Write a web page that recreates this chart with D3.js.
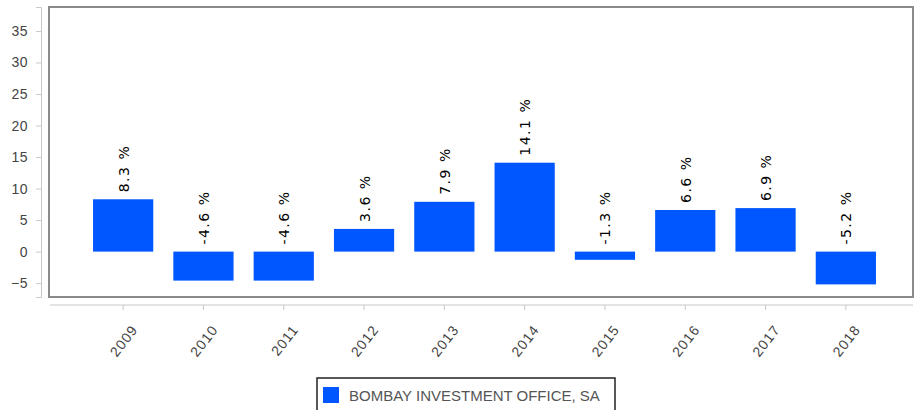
<!DOCTYPE html>
<html>
<head>
<meta charset="utf-8">
<script src="https://cdn.jsdelivr.net/npm/d3@7"></script>
<style>
    body { margin: 0; background: #fff; }
    svg { display: block; font-family: 'DejaVu Sans', sans-serif; }
</style>
</head>
<body>
<svg id="chart" width="914" height="410"></svg>
<script>
const years = ['2009', '2010', '2011', '2012', '2013', '2014', '2015', '2016', '2017', '2018']
const returns = [8.3, -4.6, -4.6, 3.6, 7.9, 14.1, -1.3, 6.6, 6.9, -5.2]
const yTicks = [-5, 0, 5, 10, 15, 20, 25, 30, 35]
const seriesName = 'BOMBAY INVESTMENT OFFICE, SA'

const barColor = '#0057ff'
const textColor = '#444'

const frame = { left: 49, top: 7, right: 913, bottom: 297 }

const svg = d3.select('#chart')

const x = d3.scaleBand()
    .domain(years)
    .range([83, 886])
    .paddingInner(0.25)
    .paddingOuter(0.125)

const y = d3.scaleLinear()
    .domain([-7.2, 38.8])
    .range([frame.bottom, frame.top])

// plot frame
svg.append('rect')
    .attr('x', frame.left)
    .attr('y', frame.top)
    .attr('width', frame.right - frame.left)
    .attr('height', frame.bottom - frame.top)
    .attr('fill', '#fff')
    .attr('stroke', '#8a8a8a')
    .attr('stroke-width', 2)

// y axis, drawn just left of the frame
let yAxis = svg.append('g')
    .attr('transform', `translate(41, 0)`)
    .call(d3.axisLeft(y).tickValues(yTicks).tickSize(5).tickPadding(8))

yAxis.select('.domain').attr('stroke', '#c8c8c8')
yAxis.selectAll('.tick line').attr('stroke', '#c8c8c8')
yAxis.selectAll('.tick text')
    .attr('fill', textColor)
    .attr('font-size', '14px')
    .attr('letter-spacing', '0.5px')

// x axis, below the frame
let xAxis = svg.append('g')
    .attr('transform', `translate(0, 305)`)
    .call(d3.axisBottom(x).tickSize(5).tickSizeOuter(0))

xAxis.select('.domain')
    .attr('d', `M${frame.left + 1},0H${frame.right}`)
    .attr('stroke', '#c8c8c8')
xAxis.selectAll('.tick line').attr('stroke', '#c8c8c8')
xAxis.selectAll('.tick text')
    .attr('fill', textColor)
    .attr('font-size', '14px')
    .attr('letter-spacing', '1px')
    .attr('text-anchor', 'end')
    .attr('dy', null)
    .attr('transform', 'translate(9, 20) rotate(-52)')

// bars
svg.append('g')
    .selectAll('rect')
    .data(returns)
    .join('rect')
    .attr('x', (d, i) => x(years[i]))
    .attr('width', x.bandwidth())
    .attr('y', d => y(Math.max(0, d)))
    .attr('height', d => Math.abs(y(d) - y(0)))
    .attr('fill', barColor)

// value labels
svg.append('g')
    .selectAll('text')
    .data(returns)
    .join('text')
    .attr('transform', (d, i) => `translate(${x(years[i]) + x.bandwidth() / 2 + 5.5}, ${y(Math.max(0, d)) - 7}) rotate(-90)`)
    .attr('font-size', '14px')
    .attr('letter-spacing', '1.5px')
    .attr('fill', '#000')
    .text(d => `${d.toFixed(1)} %`)

// legend
let legend = svg.append('g')
    .attr('transform', `translate(317, 378)`)

legend.append('rect')
    .attr('width', 298)
    .attr('height', 40)
    .attr('fill', '#fff')
    .attr('stroke', '#222')
    .attr('stroke-width', 1.5)

legend.append('rect')
    .attr('x', 6)
    .attr('y', 9)
    .attr('width', 16)
    .attr('height', 16)
    .attr('fill', barColor)

legend.append('text')
    .attr('x', 32)
    .attr('y', 23)
    .attr('font-size', '15px')
    .attr('font-family', 'Liberation Sans, sans-serif')
    .attr('fill', '#555')
    .text(seriesName)
</script>
</body>
</html>
